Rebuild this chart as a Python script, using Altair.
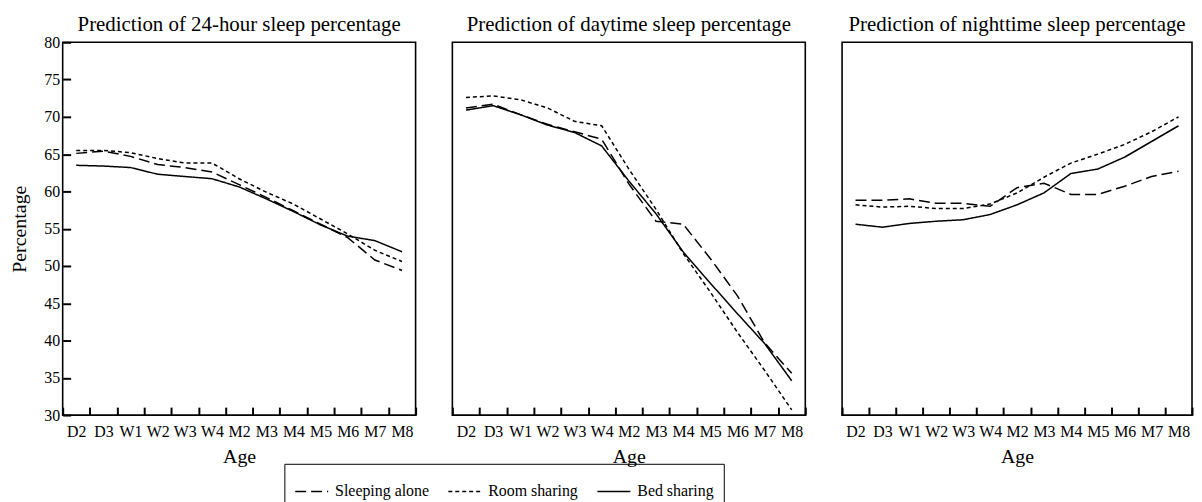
import altair as alt
import pandas as pd

ages = ["D2", "D3", "W1", "W2", "W3", "W4", "M2", "M3", "M4", "M5", "M6", "M7", "M8"]
groups = ["Sleeping alone", "Room sharing", "Bed sharing"]
panel_titles = [
    "Prediction of 24-hour sleep percentage",
    "Prediction of daytime sleep percentage",
    "Prediction of nighttime sleep percentage",
]

# 24-hour
h24_alone = [65.1, 65.4, 64.7, 63.6, 63.2, 62.6, 60.9, 59.2, 57.4, 55.6, 53.8, 50.8, 49.4]
h24_room = [65.5, 65.5, 65.2, 64.4, 63.8, 63.8, 61.7, 59.9, 58.3, 56.3, 54.3, 52.1, 50.6]
h24_bed = [63.5, 63.4, 63.2, 62.3, 62.0, 61.7, 60.6, 59.0, 57.3, 55.5, 54.0, 53.4, 51.9]

# daytime
day_alone = [71.2, 71.7, 70.3, 69.0, 68.0, 67.0, 61.0, 56.0, 55.6, 51.0, 46.0, 39.7, 35.6]
day_room = [72.6, 72.8, 72.3, 71.2, 69.4, 68.8, 63.0, 57.6, 51.7, 46.5, 41.1, 36.0, 30.7]
day_bed = [70.9, 71.5, 70.3, 68.9, 67.9, 66.1, 61.4, 57.0, 51.9, 47.7, 43.6, 39.6, 34.6]

# nighttime
night_alone = [58.8, 58.8, 59.0, 58.4, 58.4, 58.0, 60.5, 61.1, 59.6, 59.6, 60.7, 62.0, 62.7]
night_room = [58.2, 57.9, 58.0, 57.7, 57.7, 58.3, 59.8, 61.9, 63.8, 65.0, 66.3, 68.0, 70.0]
night_bed = [55.6, 55.2, 55.7, 56.0, 56.2, 56.9, 58.2, 59.8, 62.4, 63.0, 64.6, 66.7, 68.8]

panels = [
    (h24_alone, h24_room, h24_bed),
    (day_alone, day_room, day_bed),
    (night_alone, night_room, night_bed),
]
widths = [355, 355, 352]
y_ticks = list(range(30, 81, 5))
FONT = "Liberation Serif"

dash_scale = alt.Scale(domain=groups, range=[[11, 5], [4, 3], [1, 0]])


def make_panel(i):
    alone, room, bed = panels[i]
    rows = []
    for g, vals in zip(groups, (alone, room, bed)):
        for a, v in zip(ages, vals):
            rows.append({"age": a, "group": g, "value": v})
    df = pd.DataFrame(rows)
    visible = i == 0
    yaxis = alt.Axis(
        values=y_ticks, grid=False, domain=False,
        ticks=True, offset=-8, tickSize=8, tickWidth=2,
        tickColor="black", tickOpacity=1 if visible else 0,
        labelOpacity=1 if visible else 0, labelPadding=3,
        title="Percentage" if visible else None, titlePadding=14,
    )
    legend = None
    if i == 0:
        legend = alt.Legend(
            orient="none", legendX=223, legendY=424, direction="horizontal",
            title=None, strokeColor="black", padding=10,
            symbolType="stroke", symbolSize=1100, symbolStrokeWidth=1.5,
            symbolStrokeColor="black", labelFont=FONT, labelFontSize=16,
            labelColor="black", columnPadding=15, labelOffset=6,
        )
    ch = alt.Chart(df).mark_line(color="black", strokeWidth=1.5).encode(
        x=alt.X(
            "age:N", sort=ages, bandPosition=0.5,
            scale=alt.Scale(type="band", paddingInner=0, paddingOuter=0),
            axis=alt.Axis(
                labelAngle=0, grid=False, domain=False, ticks=True, offset=-8,
                tickSize=8, tickWidth=2, tickColor="black",
                tickBand="extent", labelPadding=9, title="Age", titlePadding=7,
            ),
        ),
        y=alt.Y("value:Q", scale=alt.Scale(domain=[30, 80], nice=False, zero=False), axis=yaxis),
        strokeDash=alt.StrokeDash("group:N", scale=dash_scale, legend=legend, sort=groups),
    ).properties(
        width=widths[i], height=375,
        title=alt.TitleParams(panel_titles[i], frame="group", anchor="middle"),
    )
    return ch


chart = alt.hconcat(*[make_panel(i) for i in range(3)], spacing=15).resolve_scale(
    strokeDash="shared"
).properties(
    padding={"left": 1, "top": 4, "right": 0, "bottom": 0}
).configure_view(
    stroke="black", strokeWidth=1.6
).configure_title(
    font=FONT, fontSize=21, fontWeight="normal", color="black", offset=-1
).configure_axis(
    labelFont=FONT, labelFontSize=16, labelColor="black",
    titleFont=FONT, titleFontSize=20, titleFontWeight="normal", titleColor="black",
).configure_legend(
    labelFont=FONT, labelFontSize=16, labelColor="black",
)

chart.save("out.html", embed_options={"renderer": "svg", "actions": False})
